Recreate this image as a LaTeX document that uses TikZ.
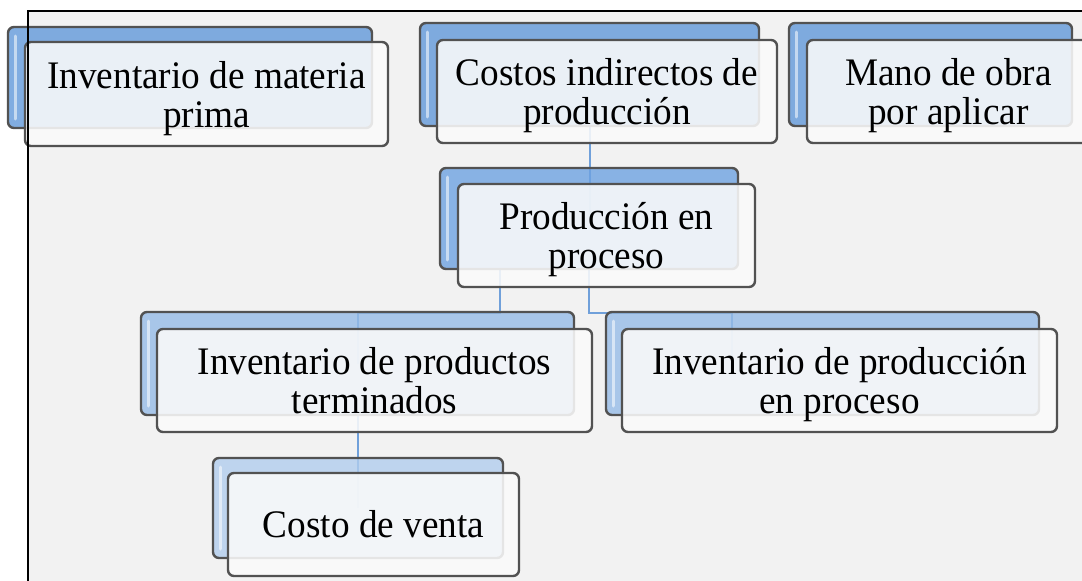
\documentclass[tikz,border=0pt]{standalone}
\usepackage{fontspec}
\setmainfont{Liberation Serif}[FakeStretch=0.955]
\definecolor{topblue}{RGB}{98,153,217}
\definecolor{midblue}{RGB}{110,162,225}
\definecolor{lowblue}{RGB}{150,188,231}
\definecolor{palblue}{RGB}{177,205,237}
\definecolor{linkblue}{RGB}{112,160,218}
\definecolor{sheet}{RGB}{242,242,242}
\pgfdeclarelayer{sheetlayer}
\pgfdeclarelayer{linklayer}
\pgfsetlayers{sheetlayer,linklayer,main}

\begin{document}
\begin{tikzpicture}[x=1pt,y=-1pt,
    backbox/.style={draw=black!68,line width=2.4pt,rounded corners=6pt,fill opacity=0.8,
        path picture={\draw[white,opacity=0.55,line width=3pt,line cap=round]
            ([xshift=7pt,yshift=-9pt]path picture bounding box.north west) --
            ([xshift=7pt,yshift=9pt]path picture bounding box.south west);}},
    frontbox/.style={draw=black!68,line width=2.4pt,rounded corners=6pt,fill=white!98!black,
        fill opacity=0.88,text opacity=1,align=center,inner sep=0pt,
        font=\fontsize{39}{39}\selectfont},
    link/.style={draw=linkblue,line width=2pt}]
    \useasboundingbox (0,0) rectangle (1082,581);
    \begin{pgfonlayer}{sheetlayer}
        \fill[sheet] (28,11) rectangle (1082,581);
    \end{pgfonlayer}

    % back boxes
    \node[backbox,fill=topblue,minimum width=364pt,minimum height=101pt] (materiaB) at (190,77.5) {};
    \node[backbox,fill=topblue,minimum width=339pt,minimum height=103pt] (costosB) at (589.5,74.5) {};
    \node[backbox,fill=topblue,minimum width=283pt,minimum height=103pt] (manoB) at (930.5,74.5) {};
    \node[backbox,fill=midblue,minimum width=298pt,minimum height=101pt] (prodB) at (589,218.5) {};
    \node[backbox,fill=lowblue,minimum width=433pt,minimum height=103pt] (termB) at (357.5,363.5) {};
    \node[backbox,fill=lowblue,minimum width=433pt,minimum height=103pt] (procB) at (822.5,363.5) {};
    \node[backbox,fill=palblue,minimum width=290pt,minimum height=100pt] (ventaB) at (358,508) {};

    % front boxes
    \node[frontbox,minimum width=363pt,minimum height=104pt] (materiaF) at (206.5,94) {Inventario de materia\\\smash{prima}};
    \node[frontbox,minimum width=340pt,minimum height=103pt] (costosF) at (607,91.5) {Costos indirectos de\\\smash{producción}};
    \node[frontbox,minimum width=283pt,minimum height=103pt] (manoF) at (948.5,91.5) {Mano de obra\\\smash{por aplicar}};
    \node[frontbox,minimum width=297pt,minimum height=103pt] (prodF) at (606.5,235.5) {Producción en\\\smash{proceso}};
    \node[frontbox,minimum width=435pt,minimum height=103pt] (termF) at (374.5,380.5) {Inventario de productos\\\smash{terminados}};
    \node[frontbox,minimum width=435pt,minimum height=103pt] (procF) at (839.5,380.5) {Inventario de producción\\\smash{en proceso}};
    \node[frontbox,minimum width=291pt,minimum height=103pt] (ventaF) at (373.5,524.5) {Costo de venta};

    % connectors, under the boxes
    \coordinate (k1) at (500,313);
    \coordinate (k2) at (732,313);
    \begin{pgfonlayer}{linklayer}
        \draw[link] (costosB.south) -- (costosB.south |- prodB.center);
        \draw[link] (prodB.south -| k1) -- (k1) -| (termB.center);
        \draw[link] (prodB.south) |- (k2) -- (k2 |- procB.center);
        \draw[link] (termB.south) -- (termB.south |- ventaB.center);
    \end{pgfonlayer}

    % frame
    \draw[line width=2pt] (28,581) -- (28,11) -- (1082,11);
\end{tikzpicture}
\end{document}
